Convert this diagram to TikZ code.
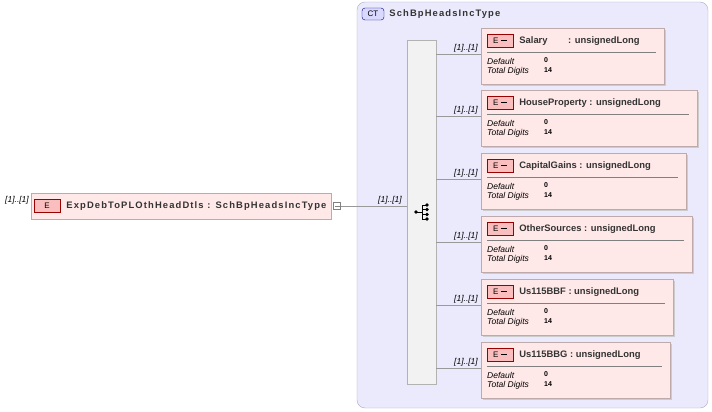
\documentclass[tikz,border=0pt]{standalone}
\usepackage{fontspec}
\setmainfont{Liberation Sans}
\usetikzlibrary{positioning}
\definecolor{ctfill}{RGB}{234,234,252}
\definecolor{ctline}{RGB}{170,170,200}
\definecolor{elfill}{RGB}{255,232,232}
\definecolor{elline}{RGB}{190,170,170}
\definecolor{badge}{RGB}{250,190,190}
\tikzset{
  elbox/.style={draw=elline,fill=elfill,anchor=north west,inner sep=0pt},
  ebadge/.style={draw=red!60!black,fill=badge,minimum width=26pt,minimum height=13pt,inner sep=0pt,font=\fontsize{8}{9}\selectfont},
  ename/.style={inner sep=0pt,font=\fontsize{9.4}{10}\bfseries\selectfont,text=black!80},
  wide/.style={font=\fontsize{9.4}{10}\bfseries\addfontfeature{LetterSpace=12}\selectfont},
  mult/.style={font=\fontsize{8.5}{9}\itshape\selectfont,inner sep=1pt},
  prop/.style={font=\fontsize{8.5}{9}\itshape\selectfont,anchor=west,inner sep=0pt},
  val/.style={font=\fontsize{7}{8}\bfseries\selectfont,anchor=west,inner sep=0pt},
  conn/.style={draw=gray!80,line width=0.6pt}
}
\begin{document}
\begin{tikzpicture}[x=1pt,y=-1pt]
    \useasboundingbox (0,0) rectangle (712,412);
    % Complex type
    \draw[draw=ctline,fill=ctfill,rounded corners=8pt] (357,2) rectangle (708,408);
    \node[draw=blue!50!black,fill=blue!15,rounded corners=3pt,minimum width=22pt,minimum height=12pt,inner sep=0pt,font=\fontsize{8}{9}\selectfont] (CT) at (373,14) {CT};
    \node[right=5pt of CT,ename,wide] (CTname) {SchBpHeadsIncType};
    % Sequence
    \node[draw=gray!60,fill=gray!10,minimum width=29pt,minimum height=344pt,inner sep=0pt] (Seq) at (421.5,212) {};
    \fill (416,212) circle (1.8pt);
    \draw (416,212) -- (422,212) (422,205) -- (422,219);
    \foreach \yy in {205,209.5,214.5,219} { \fill (427,\yy) circle (1.8pt); \draw (422,\yy) -- (427,\yy); }
    % Root element
    \node[elbox,minimum width=300pt,minimum height=26pt] (Root) at (31,193) {};
    \node[ebadge] (RootE) at (47,206) {E};
    \node[right=6pt of RootE,ename,wide] {ExpDebToPLOthHeadDtls : SchBpHeadsIncType};
    \node[mult] at (17,200) {[1]..[1]};
    \node[draw=gray,minimum size=7pt,inner sep=0pt] (Minus) at (337,206) {};
    \draw[gray] (334.5,206) -- (339.5,206);
    \draw[conn] (Minus.east) -- (Seq.west |- Minus.east);
    \node[mult] at (390,200) {[1]..[1]};
    % Children
    \foreach \nm/\lab/\yt/\xr in {Sal/{Salary\hspace{18pt} : unsignedLong}/28/664,
                                  HP/{HouseProperty : unsignedLong}/90/697,
                                  CG/{CapitalGains : unsignedLong}/153/686,
                                  OS/{OtherSources : unsignedLong}/216/692,
                                  BBF/{Us115BBF : unsignedLong}/279/673,
                                  BBG/{Us115BBG : unsignedLong}/342/670} {
      \draw[fill=gray!40,draw=none] (483,\yt+2) rectangle (\xr+2,\yt+58);
      \node[elbox,minimum width=\xr-481,minimum height=56pt] (\nm) at (481,\yt) {};
      \node[ebadge] (\nm E) at (500,\yt+13) {E \rule[2.5pt]{6pt}{1.5pt}};
      \node[right=6pt of \nm E,ename] {\lab};
      \draw[gray] (487,\yt+24) -- (\xr-8,\yt+24);
      \node[prop] at (487,\yt+33) {Default};
      \node[prop] at (487,\yt+43) {Total Digits};
      \node[val] at (544,\yt+32) {0};
      \node[val] at (544,\yt+42) {14};
      \draw[conn] (Seq.east |- 0,\yt+26) -- (\nm.west |- 0,\yt+26);
      \node[mult] at (466,\yt+20) {[1]..[1]};
    }
\end{tikzpicture}
\end{document}
